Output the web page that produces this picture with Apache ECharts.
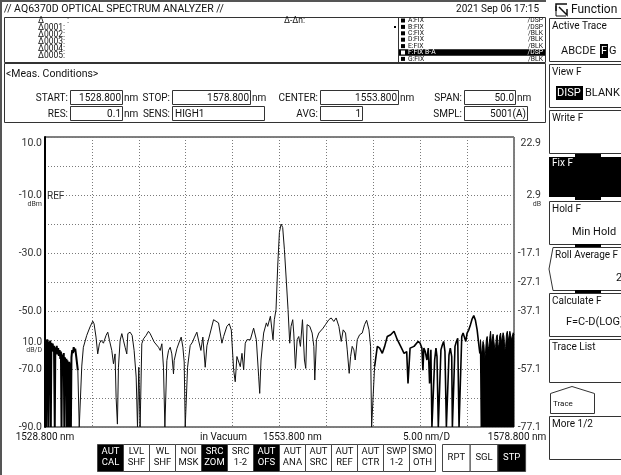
<!DOCTYPE html>
<html>
<head>
<meta charset="utf-8">
<script src="https://cdn.jsdelivr.net/npm/echarts@6/dist/echarts.min.js"></script>
<style>
  html, body { margin: 0; padding: 0; background: #fff; }
  #osa { width: 621px; height: 475px; }
</style>
</head>
<body>
<div id="osa"></div>
<script>
// measurement conditions
const START = 1528.8, STOP = 1578.8, CENTER = 1553.8, SPAN = 50.0;
const RES = 0.1, SENS = 'HIGH1', AVG = 1, SMPL = '5001(A)';
const REF_LEVEL = -10.0, DB_DIV = 10.0, SUB_OFFSET = 12.9;
const DIV_NM = 5.0;

// tick labels shown on the left (dBm) and right (dB) scales
const leftTicks = [10, -10, -30, -50, -70, -90];
const rightTicks = [10, -10, -30, -40, -50, -70, -90];

// trace F (B-A), [wavelength nm, level dBm]
// noisy band at the short wavelength end
const shortBand = [
  [1528.80,-61.0],[1528.86,-60.0],[1528.92,-90],[1528.98,-62.0],[1529.04,-59.8],[1529.10,-61.5],
  [1529.16,-90],[1529.22,-60.5],[1529.30,-62.0],[1529.36,-60.2],[1529.42,-90],[1529.48,-61.0],
  [1529.55,-63.0],[1529.62,-61.2],[1529.70,-64.0],[1529.76,-62.0],[1529.84,-90],[1529.90,-62.5],
  [1529.98,-64.5],[1530.05,-62.0],[1530.12,-65.0],[1530.20,-62.8],[1530.28,-65.5],[1530.36,-63.5],
  [1530.44,-66.5],[1530.50,-64.0],[1530.56,-90],[1530.62,-65.0],[1530.70,-67.0],[1530.80,-64.5],
  [1530.86,-90],[1530.92,-66.0],[1531.00,-68.5],[1531.08,-66.5],[1531.12,-90],[1531.18,-67.0],
  [1531.26,-69.5],[1531.32,-90],[1531.38,-67.5],[1531.44,-90],[1531.50,-68.0],[1531.56,-90],
  [1531.62,-66.0],[1531.70,-63.5],[1531.78,-64.5],[1531.86,-62.5],[1531.94,-64.0],[1532.02,-63.0],
  [1532.14,-66.0],[1532.30,-70.5]
];
// main part of the trace with the peak at 1553.8 nm
const mainTrace = [
  [1532.30,-70.5],[1532.45,-90],[1532.62,-90],[1532.72,-69.0],[1532.89,-62.5],[1533.25,-58.4],
  [1533.60,-55.5],[1533.89,-53.5],[1534.03,-54.4],[1534.24,-59.0],[1534.42,-64.8],[1534.60,-61.3],
  [1534.78,-60.1],[1535.03,-61.1],[1535.31,-58.4],[1535.49,-57.3],[1535.67,-60.1],[1535.92,-63.6],
  [1536.10,-68.2],[1536.27,-64.8],[1536.38,-79.8],[1536.52,-89.0],[1536.63,-69.4],[1536.81,-60.1],
  [1536.99,-57.8],[1537.16,-60.1],[1537.34,-62.5],[1537.52,-64.8],[1537.63,-57.8],[1537.87,-57.3],
  [1538.09,-58.4],[1538.30,-63.6],[1538.52,-72.8],[1538.66,-90],[1538.80,-69.4],[1538.94,-90],
  [1539.12,-61.3],[1539.30,-59.6],[1539.58,-58.4],[1539.83,-57.0],[1540.01,-57.8],[1540.19,-59.0],
  [1540.44,-60.7],[1540.65,-60.1],[1540.90,-62.5],[1541.08,-63.6],[1541.26,-61.3],[1541.43,-69.4],
  [1541.58,-90],[1541.79,-67.1],[1541.97,-63.6],[1542.15,-62.5],[1542.32,-64.8],[1542.50,-71.7],
  [1542.57,-67.1],[1542.86,-63.0],[1543.11,-60.7],[1543.32,-59.0],[1543.50,-62.5],[1543.64,-67.6],
  [1543.75,-90],[1543.85,-90],[1544.00,-69.4],[1544.28,-61.9],[1544.53,-60.7],[1544.74,-59.0],
  [1544.99,-57.3],[1545.17,-60.1],[1545.42,-63.6],[1545.63,-59.0],[1545.88,-69.4],[1546.06,-62.0],
  [1546.41,-57.6],[1546.77,-53.0],[1546.95,-52.4],[1547.30,-54.1],[1547.66,-61.1],[1547.84,-58.8],
  [1548.19,-55.3],[1548.44,-54.4],[1548.66,-56.5],[1548.91,-70.3],[1549.08,-74.4],[1549.26,-65.7],
  [1549.44,-65.1],[1549.62,-69.2],[1549.80,-64.6],[1549.98,-70.3],[1550.15,-61.1],[1550.33,-59.9],
  [1550.69,-59.9],[1551.04,-55.9],[1551.33,-59.9],[1551.58,-72.7],[1551.69,-78.4],[1551.83,-66.9],
  [1552.11,-57.6],[1552.40,-54.1],[1552.54,-55.3],[1552.83,-51.8],[1553.00,-51.3],[1553.11,-59.9],
  [1553.25,-53.0],[1553.43,-49.5],[1553.61,-34.5],[1553.79,-22.9],[1553.97,-20.0],[1554.14,-21.2],
  [1554.32,-28.7],[1554.54,-40.3],[1554.71,-49.5],[1554.89,-61.1],[1555.03,-55.3],[1555.21,-53.0],
  [1555.32,-57.6],[1555.50,-69.8],[1555.68,-59.9],[1555.85,-58.8],[1556.03,-62.2],[1556.25,-53.0],
  [1556.46,-66.9],[1556.60,-69.8],[1556.74,-54.7],[1557.03,-55.3],[1557.28,-57.6],[1557.46,-62.2],
  [1557.56,-73.8],[1557.74,-59.9],[1557.99,-57.6],[1558.17,-57.6],[1558.45,-55.9],[1558.70,-54.7],
  [1559.06,-53.0],[1559.31,-52.4],[1559.59,-53.6],[1559.84,-52.4],[1560.13,-55.3],[1560.38,-60.5],
  [1560.59,-56.5],[1560.84,-57.6],[1561.02,-63.4],[1561.23,-71.5],[1561.38,-65.7],[1561.55,-62.2],
  [1561.73,-63.4],[1561.87,-66.9],[1562.09,-59.9],[1562.34,-58.2],[1562.62,-57.6],[1562.87,-54.7],
  [1563.09,-53.2],[1563.34,-56.5],[1563.51,-62.2],[1563.62,-90],[1563.80,-90],[1563.94,-69.2]
];
// noisier stretch towards the long wavelength end
const noisyTail = [
  [1563.94,-69.2],[1564.23,-62.2],[1564.48,-62.8],[1564.76,-64.6],[1565.01,-62.2],[1565.29,-58.8],
  [1565.65,-58.2],[1566.01,-57.0],[1566.36,-59.9],[1566.72,-62.2],[1567.08,-64.6],[1567.36,-64.0],
  [1567.50,-75.0],[1567.72,-62.8],[1568.14,-62.2],[1568.57,-60.5],[1568.79,-61.1],[1568.87,-61.7],
  [1568.98,-62.8],[1569.09,-70.4],[1569.19,-62.8],[1569.34,-64.0],[1569.51,-66.9],[1569.66,-62.8],
  [1569.80,-75.0],[1569.94,-63.4],[1570.05,-90],[1570.23,-90],[1570.34,-66.9],[1570.48,-62.8],
  [1570.59,-65.7],[1570.73,-90],[1570.91,-90],[1571.01,-63.4],[1571.16,-61.7],[1571.30,-60.5],
  [1571.44,-64.0],[1571.59,-90],[1571.76,-90],[1571.87,-65.1],[1572.01,-62.8],[1572.16,-65.7],
  [1572.23,-90],[1572.41,-90],[1572.51,-62.2],[1572.66,-60.5],[1572.80,-59.4],[1572.94,-90],
  [1573.12,-90],[1573.23,-58.8],[1573.37,-57.6],[1573.51,-58.2],[1573.66,-60.5],[1573.80,-57.6],
  [1573.98,-56.5],[1574.16,-54.7],[1574.34,-52.7],[1574.51,-51.6],[1574.69,-53.2],[1574.87,-56.5],
  [1575.05,-61.7],[1575.16,-64.6]
];
// upper edge of the solid noise block at the long wavelength end
const longBand = [
  [1575.16,-64.6],[1575.23,-59.9],[1575.32,-65.0],[1575.41,-63.4],[1575.50,-60.5],[1575.59,-61.7],
  [1575.68,-66.0],[1575.76,-64.6],[1575.85,-60.0],[1575.94,-58.8],[1576.03,-63.0],[1576.12,-62.2],
  [1576.21,-59.5],[1576.30,-57.0],[1576.39,-61.5],[1576.48,-61.1],[1576.57,-58.0],[1576.66,-57.6],
  [1576.75,-63.0],[1576.84,-62.2],[1576.93,-59.0],[1577.01,-58.2],[1577.10,-62.5],[1577.19,-61.7],
  [1577.28,-58.5],[1577.37,-57.6],[1577.46,-61.0],[1577.55,-60.5],[1577.64,-57.5],[1577.73,-58.8],
  [1577.82,-63.5],[1577.91,-62.2],[1578.00,-58.0],[1578.09,-57.0],[1578.18,-60.5],[1578.27,-59.9],
  [1578.36,-57.0],[1578.44,-56.5],[1578.53,-60.0],[1578.62,-59.4],[1578.71,-57.5],[1578.80,-58.2]
];

const FONT = 'Roboto, "Noto Sans", sans-serif';
const toXY = arr => arr.map(p => [+(p[0] - START).toFixed(3), p[1]]);

// ---- screen furniture drawn with graphic elements ----
const g = [];
function T(x, y, s, size, o) {
  g.push({ type: 'text', x: x, y: y, z: 50,
    style: Object.assign({ text: s, font: size + 'px ' + FONT, fill: '#111',
      textAlign: 'left', textVerticalAlign: 'middle' }, o || {}) });
}
function R(x, y, w, h, o) {
  g.push({ type: 'rect', z: 40, shape: { x: x, y: y, width: w, height: h },
    style: Object.assign({ fill: 'none', stroke: '#333', lineWidth: 1 }, o || {}) });
}
function L(x1, y1, x2, y2, o) {
  g.push({ type: 'line', z: 40, shape: { x1: x1, y1: y1, x2: x2, y2: y2 },
    style: Object.assign({ stroke: '#333', lineWidth: 1 }, o || {}) });
}
function P(points, o) {
  g.push({ type: 'polygon', z: 40, shape: { points: points },
    style: Object.assign({ fill: 'none', stroke: '#333', lineWidth: 1 }, o || {}) });
}

// header
L(0, 1, 546, 1, { stroke: '#555', lineWidth: 2 });
L(1, 0, 1, 475, { stroke: '#555', lineWidth: 2 });
T(4, 9, '// AQ6370D OPTICAL SPECTRUM ANALYZER //', 10.5);
T(539, 9, '2021 Sep 06 17:15', 10, { textAlign: 'right' });

// marker area
R(4.5, 17.5, 541, 45);
L(398.5, 17.5, 398.5, 62.5);
const deltaRows = ['Δ', 'Δ0001:', 'Δ0002:', 'Δ0003:', 'Δ0004:', 'Δ0005:'];
deltaRows.forEach((s, i) => T(38, 21 + i * 7, s, 8.5));
T(67, 21, ':', 8.5);
T(284, 21, 'Δ-Δn:', 8.5);
const traceRows = [['A:FIX', '/DSP'], ['B:FIX', '/DSP'], ['C:FIX', '/BLK'], ['D:FIX', '/BLK'],
  ['E:FIX', '/BLK'], ['F:FIX B-A', '/DSP'], ['G:FIX', '/BLK']];
traceRows.forEach((r, i) => {
  const y = 20.5 + i * 6.4;
  const active = r[0][0] === 'F';
  if (active) R(399, y - 3.2, 146, 6.4, { fill: '#000', stroke: 'none' });
  R(401, y - 2, 4, 4, { fill: active ? '#fff' : '#000', stroke: 'none' });
  T(408, y, r[0], 6.8, { fill: active ? '#fff' : '#111' });
  T(543, y, r[1], 6.8, { textAlign: 'right', fill: active ? '#fff' : '#111' });
});
R(394, 26, 2, 2, { fill: '#000', stroke: 'none' });

// measurement conditions
R(4.5, 63.5, 541, 59);
T(6, 74, '<Meas. Conditions>', 10.5);
function field(lx, y, label, bx, bw, value, unit, left) {
  T(lx, y, label, 10, { textAlign: 'right' });
  R(bx + 0.5, y - 7.5, bw, 14);
  if (left) T(bx + 3, y, value, 10);
  else T(bx + bw - 1, y, value, 10, { textAlign: 'right' });
  if (unit) T(bx + bw + 2, y, unit, 10);
}
field(68, 98, 'START:', 70, 52, START.toFixed(3), 'nm');
field(170, 98, 'STOP:', 172, 78, STOP.toFixed(3), 'nm');
field(318, 98, 'CENTER:', 320, 78, CENTER.toFixed(3), 'nm');
field(462, 98, 'SPAN:', 464, 51, SPAN.toFixed(1), 'nm');
field(68, 114, 'RES:', 70, 52, RES.toFixed(1), 'nm');
field(170, 114, 'SENS:', 172, 92, SENS, '', true);
field(318, 114, 'AVG:', 320, 42, String(AVG), '');
field(462, 114, 'SMPL:', 464, 63, SMPL, '');

// scale annotations around the plot
T(47, 196, 'REF', 10, { fill: '#333' });
T(42, 204, 'dBm', 7, { textAlign: 'right', fill: '#333' });
T(541, 204, 'dB', 7, { textAlign: 'right', fill: '#333' });
T(42, 342, DB_DIV.toFixed(1), 10, { textAlign: 'right', fill: '#333' });
T(42, 350, 'dB/D', 7, { textAlign: 'right', fill: '#333' });
T(45, 437, START.toFixed(3) + ' nm', 10, { textAlign: 'center' });
T(200, 437, 'in Vacuum', 10);
T(263, 437, CENTER.toFixed(3) + ' nm', 10);
T(403, 437, DIV_NM.toFixed(2) + ' nm/D', 10);
T(517, 437, STOP.toFixed(3) + ' nm', 10, { textAlign: 'center' });

// soft keys at the bottom
const keys = [['AUT', 'CAL', 1], ['LVL', 'SHF', 0], ['WL', 'SHF', 0], ['NOI', 'MSK', 0], ['SRC', 'ZOM', 1],
  ['SRC', '1-2', 0], ['AUT', 'OFS', 1], ['AUT', 'ANA', 0], ['AUT', 'SRC', 0], ['AUT', 'REF', 0],
  ['AUT', 'CTR', 0], ['SWP', '1-2', 0], ['SMO', 'OTH', 0]];
keys.forEach((k, i) => {
  const x = 97.5 + i * 26;
  R(x, 444.5, 26, 27, { fill: k[2] ? '#000' : '#fff', stroke: '#444' });
  T(x + 13, 452, k[0], 9.5, { textAlign: 'center', fill: k[2] ? '#fff' : '#111' });
  T(x + 13, 463, k[1], 9.5, { textAlign: 'center', fill: k[2] ? '#fff' : '#111' });
});
[['RPT', 0], ['SGL', 0], ['STP', 1]].forEach((k, i) => {
  const x = 442.5 + i * 27.7;
  R(x, 444.5, 27.7, 27, { fill: k[1] ? '#000' : '#fff', stroke: '#444' });
  T(x + 13.8, 458, k[0], 9.5, { textAlign: 'center', fill: k[1] ? '#fff' : '#111' });
});

// function panel on the right
g.push({ type: 'polyline', z: 40, shape: { points: [[556, 11], [556, 4], [567, 4]] }, style: { stroke: '#111', lineWidth: 1.5, fill: 'none' } });
g.push({ type: 'polyline', z: 40, shape: { points: [[559, 7], [567, 15], [567, 9]] }, style: { stroke: '#111', lineWidth: 1.5, fill: 'none' } });
g.push({ type: 'polyline', z: 40, shape: { points: [[556, 6], [556, 16], [566, 16]] }, style: { stroke: '#111', lineWidth: 1, fill: 'none' } });
T(571, 10, 'Function', 12);
const panel = [['Active Trace', 18], ['View F', 64], ['Write F', 110], ['Fix F', 155],
  ['Hold F', 201], ['Roll Average F', 247], ['Calculate F', 293], ['Trace List', 339], ['More 1/2', 416]];
panel.forEach(p => {
  const y = p[1];
  if (p[0] === 'Fix F') {
    R(549, y + 2, 80, 40, { fill: '#000', stroke: 'none' });
    R(575, y - 1, 26, 46, { fill: '#000', stroke: 'none' });
    T(552, y + 8, p[0], 10, { fill: '#fff' });
    return;
  }
  if (p[0] === 'Roll Average F') {
    P([[553, y + 0.5], [630, y + 0.5], [630, y + 43.5], [553, y + 43.5], [549, y + 22]]);
    T(555, y + 8, p[0], 10);
    return;
  }
  R(549.5, y + 0.5, 80, 43);
  T(552, y + 8, p[0], 10);
});
R(575, 244, 26, 3, { fill: '#000', stroke: 'none' });
R(575, 290, 26, 3, { fill: '#000', stroke: 'none' });
// active trace selector
T(561, 51, 'ABCDE', 11);
R(600, 44, 8, 14, { fill: '#000', stroke: 'none' });
T(601, 51, 'F', 11, { fill: '#fff' });
T(609, 51, 'G', 11);
R(556, 86, 27, 14, { fill: '#000', stroke: 'none' });
T(557, 93, 'DISP', 11, { fill: '#fff' });
T(585, 93, 'BLANK', 11);
T(572, 232, 'Min Hold', 11);
T(616, 278, '2', 11);
T(566, 322, 'F=C-D(LOG)', 11);
P([[550.5, 413.5], [550.5, 393.5], [572, 386.5], [594.5, 393.5], [594.5, 413.5]]);
T(553, 404, 'Trace', 8);

const gridLine = { show: true, lineStyle: { color: '#7a7a7a', type: [1, 2], width: 1 } };
const option = {
  backgroundColor: '#fff',
  animation: false,
  textStyle: { fontFamily: FONT },
  grid: { left: 45, top: 137, width: 469, height: 290, show: true, borderColor: '#000', borderWidth: 1, backgroundColor: '#fff' },
  xAxis: {
    type: 'value', min: 0, max: STOP - START, interval: DIV_NM,
    axisLabel: { show: false }, axisTick: { show: false },
    axisLine: { show: false, onZero: false },
    splitLine: gridLine
  },
  yAxis: [
    {
      type: 'value', min: -90, max: 10, interval: DB_DIV,
      axisLine: { show: true, onZero: false, lineStyle: { color: '#000', width: 2 } },
      axisTick: { show: false },
      axisLabel: {
        color: '#333', fontSize: 10.5, fontFamily: FONT, margin: 3,
        formatter: v => leftTicks.indexOf(v) >= 0 ? (v === 10 ? '{top|' + v.toFixed(1) + '}' : v.toFixed(1)) : '',
        rich: { top: { fontSize: 10.5, color: '#333', padding: [12, 0, 0, 0] } }
      },
      splitLine: gridLine
    },
    {
      type: 'value', min: -90, max: 10, interval: DB_DIV, position: 'right',
      axisLine: { show: false }, axisTick: { show: false }, splitLine: { show: false },
      axisLabel: {
        color: '#333', fontSize: 10.5, fontFamily: FONT, margin: 27, align: 'right',
        formatter: v => rightTicks.indexOf(v) >= 0 ? (v === 10 ? '{top|' + (v + SUB_OFFSET).toFixed(1) + '}' : (v + SUB_OFFSET).toFixed(1)) : '',
        rich: { top: { fontSize: 10.5, color: '#333', padding: [12, 0, 0, 0] } }
      }
    }
  ],
  series: [
    { type: 'line', data: toXY(shortBand), showSymbol: false, lineStyle: { color: '#000', width: 2 }, z: 3 },
    { type: 'line', data: toXY(mainTrace), showSymbol: false, lineStyle: { color: '#111', width: 1 }, z: 3 },
    { type: 'line', data: toXY(noisyTail), showSymbol: false, lineStyle: { color: '#000', width: 1.6 }, z: 3 },
    { type: 'line', data: toXY(longBand), showSymbol: false, lineStyle: { color: '#000', width: 1 },
      areaStyle: { color: '#000', opacity: 1, origin: 'start' }, z: 3 }
  ],
  graphic: { elements: g }
};

const chart = echarts.init(document.getElementById('osa'));
chart.setOption(option);
</script>
</body>
</html>
